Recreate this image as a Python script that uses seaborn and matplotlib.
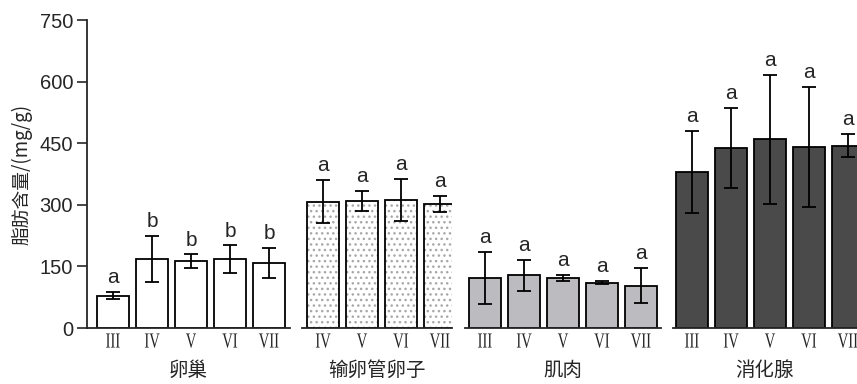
import numpy as np
import pandas as pd
import seaborn as sns
import matplotlib
matplotlib.use("Agg")
import matplotlib.pyplot as plt
from matplotlib import patheffects
from matplotlib.path import Path
from matplotlib.transforms import Affine2D

# values (mean, sd, significance letter)
organs = ["卵巢", "输卵管卵子", "肌肉", "消化腺"]
stages = {
    "卵巢": ["III", "IV", "V", "VI", "VII"],
    "输卵管卵子": ["IV", "V", "VI", "VII"],
    "肌肉": ["III", "IV", "V", "VI", "VII"],
    "消化腺": ["III", "IV", "V", "VI", "VII"],
}
means = {
    "卵巢": [79, 168, 162, 168, 158],
    "输卵管卵子": [308, 310, 312, 302],
    "肌肉": [122, 128, 122, 110, 103],
    "消化腺": [380, 438, 460, 440, 444],
}
sds = {
    "卵巢": [9, 57, 17, 33, 37],
    "输卵管卵子": [52, 24, 52, 19],
    "肌肉": [64, 37, 8, 4, 43],
    "消化腺": [100, 98, 157, 146, 28],
}
letters = {
    "卵巢": ["a", "b", "b", "b", "b"],
    "输卵管卵子": ["a", "a", "a", "a"],
    "肌肉": ["a", "a", "a", "a", "a"],
    "消化腺": ["a", "a", "a", "a", "a"],
}
yticks = [0, 150, 300, 450, 600, 750]

colors = {"卵巢": "white", "输卵管卵子": "white", "肌肉": "#bcbbc0", "消化腺": "#4a4a4a"}


class Condense(patheffects.AbstractPathEffect):
    """Squeeze text horizontally about its own centre (narrow roman numerals)."""

    def __init__(self, sx):
        super().__init__()
        self.sx = sx

    def draw_path(self, renderer, gc, tpath, affine, rgbFace=None):
        verts = tpath.vertices
        if tpath.codes is not None:
            verts = verts[tpath.codes != Path.CLOSEPOLY]
        if len(verts):
            xy = affine.transform(verts)
            cx = (xy[:, 0].min() + xy[:, 0].max()) / 2
            affine = affine + Affine2D().translate(-cx, 0).scale(self.sx, 1).translate(cx, 0)
        renderer.draw_path(gc, tpath, affine, rgbFace)


sns.set_style("ticks")
plt.rcParams["font.family"] = ["Liberation Sans", "Noto Sans CJK SC", "DejaVu Sans"]
cjk = ["Noto Sans CJK SC", "DejaVu Sans"]

fig = plt.figure(figsize=(8.57, 3.84), dpi=100)
bottom, height = 1 - 328 / 384, 308 / 384
# axes placement (left px, right px, left xlim) so bars keep the same spacing
layout = {
    "卵巢": (87, 290, -0.667),
    "输卵管卵子": (302, 452, -0.538),
    "肌肉": (465, 661, -0.513),
    "消化腺": (673, 857, -0.487),
}
px_per_unit = 39.0

for organ in organs:
    l, r, x0 = layout[organ]
    ax = fig.add_axes([l / 857, bottom, (r - l) / 857, height])
    df = pd.DataFrame({"stage": stages[organ], "mean": means[organ]})

    if organ == "输卵管卵子":
        # stippled fill first, then outline on top
        sns.barplot(data=df, x="stage", y="mean", ax=ax, color="white",
                    edgecolor="#a8a8a8", linewidth=0, hatch="...",
                    width=0.8, errorbar=None, saturation=1)
        sns.barplot(data=df, x="stage", y="mean", ax=ax, fill=False,
                    edgecolor="black", linewidth=1.3, width=0.8,
                    errorbar=None)
    else:
        sns.barplot(data=df, x="stage", y="mean", ax=ax, color=colors[organ],
                    edgecolor="black", linewidth=1.3, width=0.8,
                    errorbar=None, saturation=1)

    xs = np.arange(len(stages[organ]))
    ax.errorbar(xs, means[organ], yerr=sds[organ], fmt="none", ecolor="black",
                elinewidth=1.3, capsize=5, capthick=1.3, zorder=5)
    for x, m, s, t in zip(xs, means[organ], sds[organ], letters[organ]):
        ax.annotate(t, (x, m + s), xytext=(0, 3.5), textcoords="offset points",
                    ha="center", va="bottom", fontsize=15)

    ax.set_xlim(x0, x0 + (r - l) / px_per_unit)
    ax.set_ylim(0, 750)
    ax.set_xticks(xs)
    ax.set_xticklabels(stages[organ], family="Liberation Serif", fontsize=15.5)
    for lab in ax.get_xticklabels():
        lab.set_path_effects([Condense(0.68)])
    ax.tick_params(axis="x", length=0, pad=4)
    ax.set_xlabel(organ, family=cjk, fontsize=14, labelpad=5)
    ax.spines["top"].set_visible(False)
    ax.spines["right"].set_visible(False)
    ax.spines["bottom"].set_linewidth(1.3)
    ax.patch.set_alpha(0)
    if organ == "卵巢":
        ax.set_yticks(yticks)
        ax.tick_params(axis="y", length=7, width=1.2, labelsize=14.5, pad=3)
        ax.spines["left"].set_linewidth(1.3)
        ax.set_ylabel("脂肪含量/(mg/g)", family=cjk, fontsize=13.5, labelpad=5)
    else:
        ax.spines["left"].set_visible(False)
        ax.set_yticks([])
        ax.set_ylabel("")
    for sp in ax.spines.values():
        sp.set_clip_on(False)

fig.savefig("out.png", dpi=100)
